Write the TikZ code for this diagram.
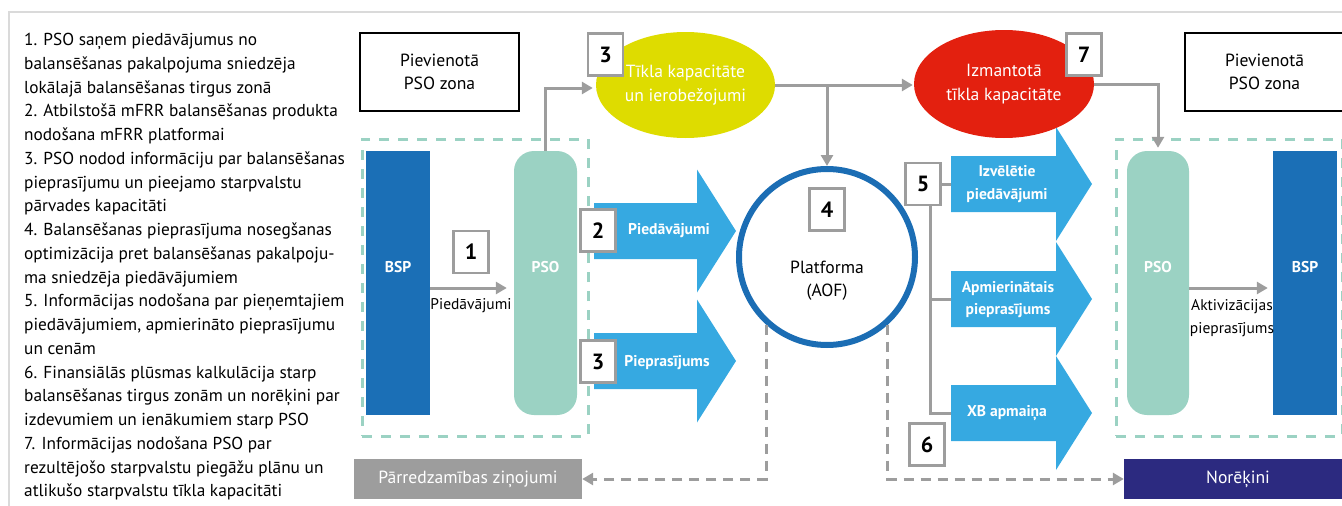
\documentclass[tikz,border=0pt]{standalone}
\usepackage{fontspec}
\setmainfont{PT Sans}
\usetikzlibrary{arrows.meta,shapes.geometric,positioning}
\tikzset{>={Triangle[length=11pt,width=12pt]}}

\definecolor{bspblue}{HTML}{1B6FB6}
\definecolor{platblue}{HTML}{1B6DB4}
\definecolor{psoteal}{HTML}{9BD2C3}
\definecolor{arrblue}{HTML}{36A9E1}
\definecolor{linegray}{HTML}{9D9D9D}
\definecolor{framegray}{HTML}{DADADA}
\definecolor{capyellow}{HTML}{DEDC00}
\definecolor{capred}{HTML}{E3200F}
\definecolor{setnavy}{HTML}{2C2A80}

\newcommand{\txtnotes}{\fontsize{17.3}{23.75}\selectfont}
\newcommand{\txtbox}{\fontsize{17.6}{23.5}\selectfont}
\newcommand{\txtflow}{\fontsize{15.6}{22.5}\selectfont\bfseries}
\newcommand{\txtnum}{\fontsize{22}{22}\selectfont\bfseries}
\newcommand{\txtlbl}{\fontsize{15.5}{23}\selectfont}

% fat blue arrow: tail x, neck x, tip x, centre y, head half height
\newcommand{\fatarrow}[5]{%
  \fill[arrblue] (#1,#4-28) -- (#2,#4-28) -- (#2,#4-#5) -- (#3,#4)
    -- (#2,#4+#5) -- (#2,#4+28) -- (#1,#4+28) -- cycle;}

\tikzset{
  notes/.style={anchor=north west, align=left, inner sep=0pt, font=\txtnotes},
  zonebox/.style={draw=black, line width=2pt, minimum width=159pt, minimum height=78pt,
    inner sep=0pt, align=center, font=\txtbox},
  tsoframe/.style={draw=psoteal, line width=3pt, dash pattern=on 10pt off 9pt,
    minimum width=226pt, minimum height=297pt, inner sep=0pt},
  actor/.style={minimum width=64pt, minimum height=264pt, inner sep=0pt},
  actorlbl/.style={text=white, font=\txtflow, yshift=16pt},
  capnode/.style={ellipse, minimum width=179pt, minimum height=106pt, inner sep=0pt,
    text=white, align=center, font=\txtbox},
  flowtext/.style={text=white, align=center, font=\txtflow, inner sep=0pt},
  numbox/.style={draw=linegray, line width=2.5pt, fill=white, minimum width=35pt,
    minimum height=42pt, inner sep=0pt, font=\txtnum},
  outbox/.style={minimum width=228pt, minimum height=40pt, inner sep=0pt,
    text=white, font=\txtbox},
  conn/.style={draw=linegray, line width=3pt},
  dashconn/.style={draw=linegray, line width=3pt, dash pattern=on 10pt off 7pt}
}

\begin{document}
\begin{tikzpicture}[x=1pt, y=-1pt]
\useasboundingbox (0,0) rectangle (1342,506);
\draw[framegray, line width=2pt] (9,506) -- (9,12) -- (1342,12);

% explanation
\node[notes] (notes) at (24,33) {1. PSO saņem piedāvājumus no\\
balansēšanas pakalpojuma sniedzēja\\
lokālajā balansēšanas tirgus zonā\\
2. Atbilstošā mFRR balansēšanas produkta\\
nodošana mFRR platformai\\
3. PSO nodod informāciju par balansēšanas\\
pieprasījumu un pieejamo starpvalstu\\
pārvades kapacitāti\\
4. Balansēšanas pieprasījuma nosegšanas\\
optimizācija pret balansēšanas pakalpoju-\\
ma sniedzēja piedāvājumiem\\
5. Informācijas nodošana par pieņemtajiem\\
piedāvājumiem, apmierināto pieprasījumu\\
un cenām\\
6. Finansiālās plūsmas kalkulācija starp\\
balansēšanas tirgus zonām un norēķini par\\
izdevumiem un ienākumiem starp PSO\\
7. Informācijas nodošana PSO par\\
rezultējošo starpvalstu piegāžu plānu un\\
atlikušo starpvalstu tīkla kapacitāti};

% zones
\node[zonebox] (zoneL) at (439.5,72) {Pievienotā\\PSO zona};
\node[zonebox] (zoneR) at (1264.5,72) {Pievienotā\\PSO zona};
\node[tsoframe] (frameL) at (475,287.5) {};
\node[tsoframe] (frameR) at (1229,287.5) {};

\node[actor, fill=bspblue, label={[actorlbl]center:BSP}] (bspL) at (398,283) {};
\node[actor, fill=psoteal, rounded corners=20pt, minimum width=63pt,
  label={[actorlbl]center:PSO}] (psoL) at (545.5,283) {};
\node[actor, fill=psoteal, rounded corners=20pt, minimum width=62pt,
  label={[actorlbl]center:PSO}] (psoR) at (1158,283) {};
\node[actor, fill=bspblue, label={[actorlbl]center:BSP}] (bspR) at (1305,283) {};

% flows to and from the platform
\fatarrow{594}{697}{736}{231}{61.5}
\fatarrow{594}{697}{736}{361}{61.5}
\fatarrow{951}{1056}{1092}{184}{57}
\fatarrow{951}{1056}{1092}{299}{57}
\fatarrow{951}{1056}{1092}{413}{57}
\coordinate (izvTail) at (951,184);
\coordinate (apmTail) at (951,299);
\coordinate (xbTail) at (951,413);
\node[flowtext] (piedav) at (669,231) {Piedāvājumi};
\node[flowtext] (piepr) at (667,363) {Pieprasījums};
\node[flowtext] (izvel) at (1007,184) {Izvēlētie\\piedāvājumi};
\node[flowtext] (apmier) at (1008,299.5) {Apmierinātais\\pieprasījums};
\node[flowtext] (xbapm) at (1007,413) {XB apmaiņa};

\node[capnode, fill=capyellow] (tikla) at (685.5,85) {Tīkla kapacitāte\\un ierobežojumi};
\node[capnode, fill=capred, minimum width=180pt, minimum height=108pt] (izmant) at (1004,84)
  {Izmantotā\\tīkla kapacitāte};
\node[circle, draw=platblue, line width=6pt, minimum size=176pt, inner sep=0pt] (plat) at (827,257) {};
\node[align=center, font=\txtbox] (platlbl) at (827,280.5) {Platforma\\(AOF)};

\node[outbox, fill=linegray] (parr) at (468,479) {Pārredzamības ziņojumi};
\node[outbox, fill=setnavy] (norek) at (1238,479) {Norēķini};

% steps
\node[numbox] (n1) at (471,252) {1};
\node[numbox] (n2) at (598,230.5) {2};
\node[numbox] (n3a) at (598,361.5) {3};
\node[numbox] (n3b) at (605.5,54.5) {3};
\node[numbox] (n4) at (827,209.5) {4};
\node[numbox] (n5) at (923,184) {5};
\node[numbox] (n6) at (927,444.5) {6};
\node[numbox] (n7) at (1084,54.5) {7};

% connectors
\draw[conn, ->, shorten >=7pt] ([yshift=-5pt]bspL.east) -- ([yshift=-5pt]psoL.west);
\node[font=\txtlbl] (lblPied) at (471,306) {Piedāvājumi};
\draw[conn, ->, shorten >=5pt] ([yshift=-5pt]psoR.east) -- ([yshift=-5pt]bspR.west);
\node[font=\txtlbl, align=center, inner sep=0pt] (lblAkt) at (1232,318.5) {Aktivizācijas\\pieprasījums};
\draw[conn, ->, shorten >=3pt] (psoL.north) |- ([yshift=-3pt]tikla.west);
\draw[conn, ->, shorten >=1pt] (tikla.east) -- (tikla.east -| izmant.west);
\coordinate (branch) at (plat.north |- tikla.east);
\draw[conn, ->] (branch) -- (plat.north);
\draw[conn, ->, shorten >=3pt] (izmant.east) -| (psoR.north);
\draw[conn] (n5.east) -- (izvTail);
\draw[conn] ([xshift=7pt]n5.south) |- (apmTail);
\draw[conn] ([xshift=7pt]n5.south) |- (xbTail);
\draw[dashconn, ->] (plat.228) |- (parr.east);
\draw[dashconn, ->] (plat.312) |- (norek.west);
\end{tikzpicture}
\end{document}
